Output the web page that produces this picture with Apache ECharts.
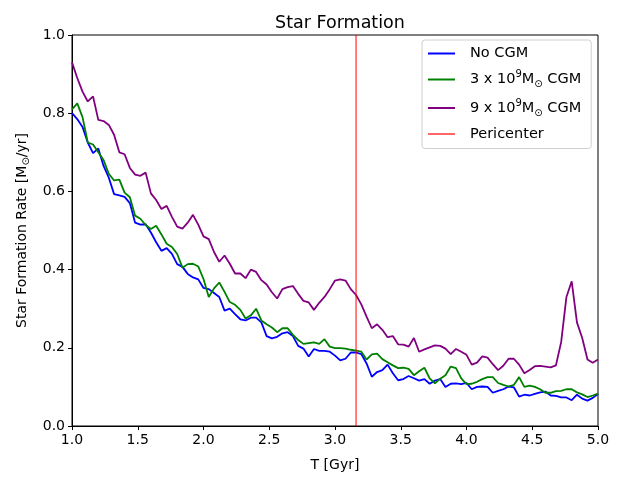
<!DOCTYPE html>
<html><head><meta charset="utf-8">
<script src="https://cdn.jsdelivr.net/npm/echarts@6/dist/echarts.min.js"></script>
<style>html,body{margin:0;padding:0;background:#fff}#c{width:625px;height:477px}</style>
</head><body><div id="c"></div>
<script>
const times = [1.00,1.04,1.08,1.12,1.16,1.20,1.24,1.28,1.32,1.36,
1.40,1.44,1.48,1.52,1.56,1.60,1.64,1.68,1.72,1.76,
1.80,1.84,1.88,1.92,1.96,2.00,2.04,2.08,2.12,2.16,
2.20,2.24,2.28,2.32,2.36,2.40,2.44,2.48,2.52,2.56,
2.60,2.64,2.68,2.72,2.76,2.80,2.84,2.88,2.92,2.96,
3.00,3.04,3.08,3.12,3.16,3.20,3.24,3.28,3.32,3.36,
3.40,3.44,3.48,3.52,3.56,3.60,3.64,3.68,3.72,3.76,
3.80,3.84,3.88,3.92,3.96,4.00,4.04,4.08,4.12,4.16,
4.20,4.24,4.28,4.32,4.36,4.40,4.44,4.48,4.52,4.56,
4.60,4.64,4.68,4.72,4.76,4.80,4.84,4.88,4.92,4.96,
5.00];
const noCGM = [.80,.785,.765,.725,.698,.71,.665,.635,.593,.59,
.586,.57,.52,.515,.516,.495,.47,.448,.455,.44,
.414,.407,.389,.38,.375,.353,.35,.34,.33,.295,
.30,.286,.273,.27,.277,.277,.265,.23,.224,.228,
.237,.24,.23,.205,.198,.178,.197,.192,.192,.19,
.18,.168,.172,.188,.188,.184,.16,.126,.138,.143,
.157,.135,.117,.12,.128,.122,.116,.12,.108,.116,
.12,.1,.108,.109,.107,.11,.094,.1,.101,.1,
.085,.09,.094,.101,.099,.075,.08,.078,.082,.086,
.088,.078,.077,.073,.073,.066,.08,.07,.065,.072,
.082];
const cgm3 = [.81,.825,.79,.725,.72,.70,.68,.645,.628,.63,
.597,.585,.538,.53,.514,.504,.512,.49,.466,.458,
.44,.405,.414,.415,.408,.376,.33,.352,.367,.343,
.317,.31,.297,.275,.283,.30,.27,.26,.252,.24,
.25,.25,.233,.22,.21,.212,.214,.21,.222,.203,
.199,.199,.198,.195,.193,.19,.17,.183,.185,.171,
.163,.155,.148,.149,.146,.13,.14,.149,.122,.109,
.121,.13,.152,.148,.122,.107,.108,.113,.12,.125,
.125,.11,.105,.101,.105,.125,.1,.103,.1,.094,
.085,.085,.089,.09,.094,.094,.086,.081,.074,.078,
.083];
const cgm9 = [.93,.89,.855,.83,.843,.783,.78,.77,.745,.70,
.695,.66,.643,.64,.648,.595,.578,.555,.563,.535,
.51,.505,.52,.54,.515,.485,.478,.445,.42,.436,
.415,.39,.39,.378,.40,.394,.373,.362,.342,.326,
.35,.355,.358,.338,.32,.316,.297,.315,.33,.35,
.372,.375,.372,.35,.335,.311,.28,.25,.26,.246,
.227,.23,.209,.208,.203,.225,.19,.196,.201,.206,
.205,.198,.184,.197,.19,.182,.157,.162,.178,.175,
.158,.143,.154,.172,.172,.157,.135,.143,.153,.154,
.152,.15,.155,.215,.33,.37,.265,.225,.17,.162,
.17];
const pericenterT = 3.16;
const seriesNames = ['No CGM', '3 x 10^9 CGM', '9 x 10^9 CGM', 'Pericenter'];
const xTicks = [1.0, 5.0, 0.5];
const yTicks = [0.0, 1.0, 0.2];

const FONT = 'DejaVu Sans';
const pair = (xs, ys) => xs.map((x, i) => [x, ys[i]]);
const chart = echarts.init(document.getElementById('c'), null, {renderer: 'canvas'});
const lw = 1.8;
const LF = 14.5;
chart.setOption({
  animation: false,
  backgroundColor: '#fff',
  textStyle: {fontFamily: FONT, color: '#000'},
  title: {
    text: 'Star Formation', left: 335, top: 9, textAlign: 'center',
    textStyle: {fontFamily: FONT, fontSize: 17.5, fontWeight: 'normal', color: '#000'}
  },
  grid: {left: 72, right: 27, top: 35, bottom: 50, show: true, borderColor: '#000', borderWidth: 1, backgroundColor: 'transparent'},
  legend: {
    orient: 'vertical', left: 422, top: 40,
    data: seriesNames,
    icon: 'rect', itemWidth: 27, itemHeight: 2, itemGap: 8.5,
    padding: [6, 10, 7, 6],
    borderColor: '#d0d0d0', borderWidth: 1, borderRadius: 3, backgroundColor: 'rgba(255,255,255,0.8)',
    formatter: function (name) {
      if (name === '3 x 10^9 CGM') return '{a|3 x 10}{sup|9}{a|M}{sub|⊙}{a| CGM}';
      if (name === '9 x 10^9 CGM') return '{a|9 x 10}{sup|9}{a|M}{sub|⊙}{a| CGM}';
      return '{a|' + name + '}';
    },
    textStyle: {
      fontFamily: FONT, fontSize: LF, color: '#000', padding: [0, 0, 0, 10],
      rich: {
        a: {fontFamily: FONT, fontSize: LF, color: '#000', lineHeight: 20, verticalAlign: 'middle'},
        sup: {fontFamily: FONT, fontSize: 10, color: '#000', lineHeight: 12, verticalAlign: 'top'},
        sub: {fontFamily: FONT, fontSize: 10, color: '#000', lineHeight: 13, verticalAlign: 'bottom'}
      }
    }
  },
  xAxis: {
    type: 'value', min: xTicks[0], max: xTicks[1], interval: xTicks[2],
    name: 'T [Gyr]', nameLocation: 'middle', nameGap: 32,
    nameTextStyle: {fontFamily: FONT, fontSize: 14, color: '#000'},
    axisLine: {show: true, onZero: false, lineStyle: {color: '#000', width: 1}},
    axisTick: {show: true, inside: false, length: 4, lineStyle: {color: '#000'}},
    axisLabel: {fontFamily: FONT, fontSize: 14, color: '#000', margin: 7, formatter: v => v.toFixed(1)},
    splitLine: {show: false}
  },
  yAxis: {
    type: 'value', min: yTicks[0], max: yTicks[1], interval: yTicks[2],
    name: '{a|Star Formation Rate [M}{s|⊙}{a|/yr]}', nameLocation: 'middle', nameGap: 39, nameRotate: 90,
    nameTextStyle: {fontFamily: FONT, fontSize: 14, color: '#000',
      rich: {a: {fontFamily: FONT, fontSize: 14, color: '#000', lineHeight: 18},
             s: {fontFamily: FONT, fontSize: 10, color: '#000', lineHeight: 12, verticalAlign: 'bottom'}}},
    axisLine: {show: true, onZero: false, lineStyle: {color: '#000', width: 1}},
    axisTick: {show: true, inside: false, length: 4, lineStyle: {color: '#000'}},
    axisLabel: {fontFamily: FONT, fontSize: 14, color: '#000', margin: 7, formatter: v => v.toFixed(1)},
    splitLine: {show: false}
  },
  series: [
    {name: seriesNames[0], type: 'line', data: pair(times, noCGM), showSymbol: false, symbol: 'none', lineStyle: {color: '#0000ff', width: lw}, itemStyle: {color: '#0000ff'}, z: 3},
    {name: seriesNames[1], type: 'line', data: pair(times, cgm3), showSymbol: false, symbol: 'none', lineStyle: {color: '#008000', width: lw}, itemStyle: {color: '#008000'}, z: 4},
    {name: seriesNames[2], type: 'line', data: pair(times, cgm9), showSymbol: false, symbol: 'none', lineStyle: {color: '#800080', width: lw}, itemStyle: {color: '#800080'}, z: 5},
    {name: seriesNames[3], type: 'line', data: [[pericenterT, 0], [pericenterT, 1]], showSymbol: false, symbol: 'none', lineStyle: {color: '#ff0000', width: 1}, itemStyle: {color: 'rgba(255,0,0,0.6)'}, z: 6}
  ]
});
</script></body></html>
